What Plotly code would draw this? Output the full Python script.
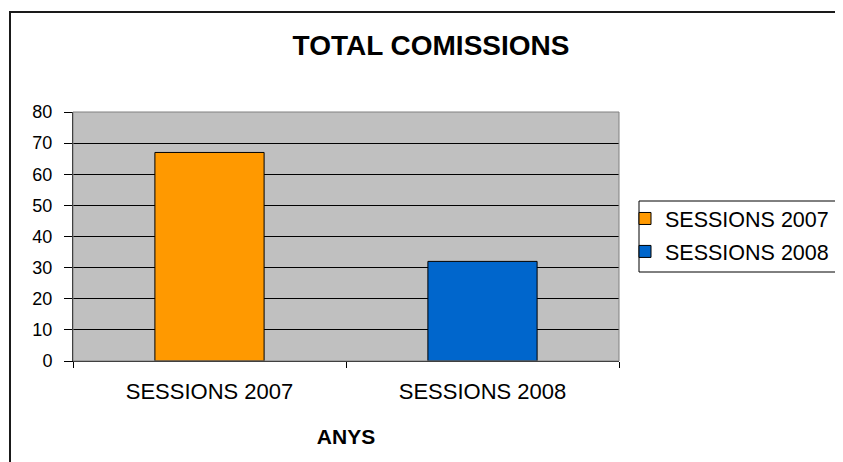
import plotly.graph_objects as go

categories = ["SESSIONS 2007", "SESSIONS 2008"]
values = [67, 32]
colors = ["#FF9900", "#0066CC"]
y_ticks = [0, 10, 20, 30, 40, 50, 60, 70, 80]
title_text = "TOTAL COMISSIONS"
x_title = "ANYS"

W, H = 843, 462
OFF = 8  # page body margin offset
# target screen positions of plot area
SX0, SX1, SY0, SY1 = 73, 619, 112, 361
L = SX0 - OFF
R = W - (SX1 - OFF)
T = SY0 - OFF
B = H - (SY1 - OFF)
pw, ph = W - L - R, H - T - B

def px_x(p):  # screen px -> paper
    return (p - OFF - L) / pw

def px_y(p):
    return (H - B - (p - OFF)) / ph

FONT = "Liberation Sans, Arial, sans-serif"

fig = go.Figure()
for cat, val, col in zip(categories, values, colors):
    fig.add_trace(go.Bar(
        x=[cat], y=[val], name=cat, legendgroup=cat,
        marker=dict(color=col, line=dict(color="black", width=1)),
        width=0.4,
    ))

fig.update_layout(
    width=W, height=H,
    margin=dict(l=L, r=R, t=T, b=B, autoexpand=False),
    paper_bgcolor="white",
    plot_bgcolor="#C0C0C0",
    barmode="overlay",
    font=dict(family=FONT, size=18, color="black"),
    title=dict(text="<b>" + title_text + "</b>", xref="container", yref="container",
               x=(431 - OFF) / W, y=1 - (45 - OFF) / H, xanchor="center", yanchor="middle",
               font=dict(size=28, family=FONT)),
    showlegend=True,
    legend=dict(x=px_x(625), y=px_y(198), xanchor="left", yanchor="top",
                bgcolor="rgba(0,0,0,0)", borderwidth=0,
                font=dict(size=21.5, family=FONT), tracegroupgap=2),
    xaxis=dict(
        type="category", categoryorder="array", categoryarray=categories,
        tickson="boundaries", ticks="outside", ticklen=6, tickcolor="black",
        showline=True, linecolor="black", linewidth=1,
        showgrid=False, tickfont=dict(size=22), ticklabelstandoff=11,
        title=dict(text="<b>" + x_title + "</b>", font=dict(size=21), standoff=25),
        range=[-0.5, 1.5], automargin=False,
    ),
    yaxis=dict(
        range=[0, 80], tickvals=y_ticks, ticks="outside", ticklen=8,
        tickcolor="black", showline=True, linecolor="black", linewidth=1,
        showgrid=True, gridcolor="black", gridwidth=1, zeroline=False,
        tickfont=dict(size=18), ticklabelstandoff=8, automargin=False,
    ),
    shapes=[
        dict(type="rect", xref="paper", yref="paper", x0=0, x1=1, y0=0, y1=1,
             line=dict(color="#808080", width=1), layer="above"),
        dict(type="rect", xref="paper", yref="paper",
             x0=px_x(10), x1=px_x(870), y0=px_y(480), y1=px_y(12),
             line=dict(color="#1a1a1a", width=2)),
        dict(type="rect", xref="paper", yref="paper",
             x0=px_x(639), x1=px_x(870), y0=px_y(272), y1=px_y(201),
             line=dict(color="black", width=1)),
    ],
)

fig.write_html("out.html")
